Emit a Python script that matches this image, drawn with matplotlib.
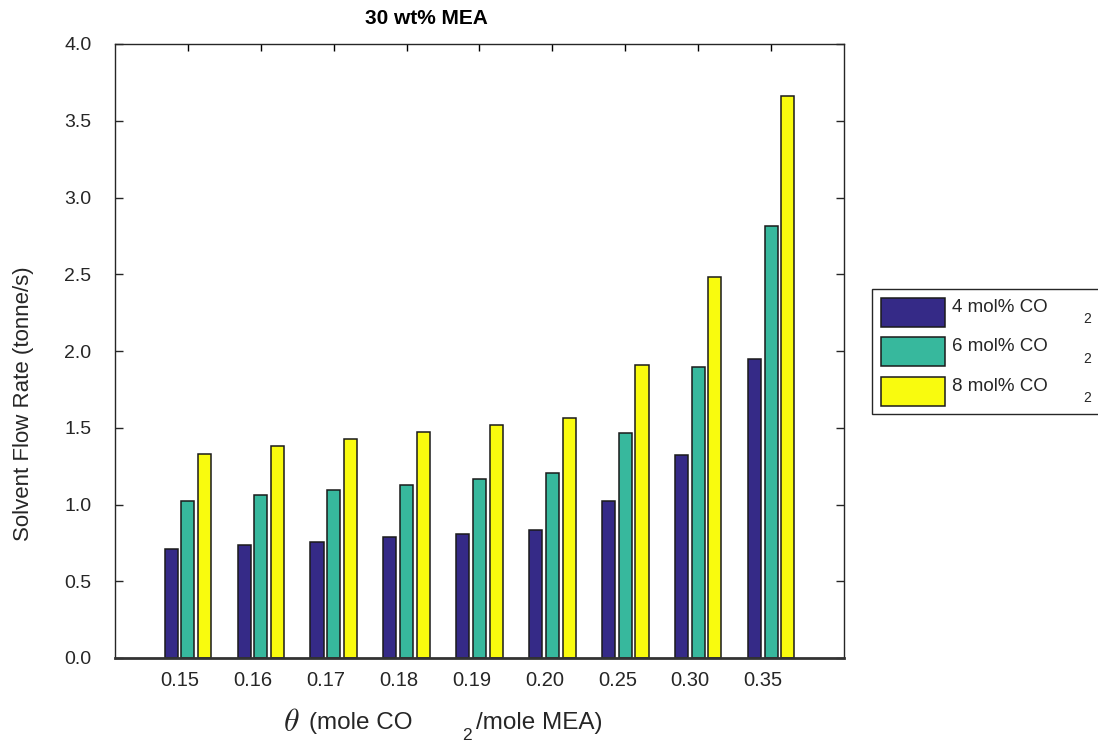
import matplotlib
matplotlib.use("Agg")
import matplotlib.pyplot as plt
import numpy as np
from matplotlib.patches import Rectangle
from matplotlib.transforms import ScaledTranslation

plt.rcParams['font.family'] = ['Liberation Sans', 'DejaVu Sans']

categories = ["0.15", "0.16", "0.17", "0.18", "0.19", "0.20", "0.25", "0.30", "0.35"]
co2_4 = [0.71, 0.736, 0.756, 0.79, 0.81, 0.834, 1.021, 1.32, 1.946]
co2_6 = [1.023, 1.06, 1.094, 1.129, 1.168, 1.203, 1.468, 1.896, 2.816]
co2_8 = [1.331, 1.379, 1.425, 1.47, 1.52, 1.566, 1.909, 2.484, 3.659]
series_labels = ["4 mol% CO", "6 mol% CO", "8 mol% CO"]
yticks = [0.0, 0.5, 1.0, 1.5, 2.0, 2.5, 3.0, 3.5, 4.0]

colors = ["#352a87", "#37b89d", "#f9fb0e"]

W, H = 1098, 743
fig = plt.figure(figsize=(W / 100, H / 100), dpi=100)
ax = fig.add_axes([115 / W, 1 - 658 / H, (844 - 115) / W, (658 - 44) / H])

x = np.arange(1, len(categories) + 1)
pitch = 0.229
bw = 0.18
for i, (vals, c) in enumerate(zip([co2_4, co2_6, co2_8], colors)):
    ax.bar(x + (i - 1) * pitch, vals, width=bw, color=c, edgecolor="#1a1a1a",
           linewidth=1.1, zorder=2)

ax.set_xlim(0, 10)
ax.set_ylim(0, 4.0)
ax.set_xticks(x)
ax.set_xticklabels(categories, fontsize=14.5, color="#262626")
ax.set_yticks(yticks)
ax.set_yticklabels([f"{v:.1f}" for v in yticks], fontsize=14, color="#262626")

ax.tick_params(axis="x", direction="in", length=0, pad=9)
ax.tick_params(axis="y", direction="in", length=6, width=1, pad=17,
               right=True, color="#262626")
ax.xaxis.set_tick_params(which="major", top=True, bottom=False)
for t in ax.xaxis.get_major_ticks():
    t.tick2line.set_markersize(5)
    t.tick2line.set_markeredgewidth(1)
    t.tick2line.set_color("#262626")
    t.label1.set_visible(True)

for s in ["left", "right", "top"]:
    ax.spines[s].set_linewidth(1.0)
    ax.spines[s].set_color("#262626")
ax.spines["bottom"].set_linewidth(2.0)
ax.spines["bottom"].set_color("#333333")

for lab in ax.get_xticklabels():
    lab.set_transform(lab.get_transform() + ScaledTranslation(-8 / 100, 0, fig.dpi_scale_trans))
    lab.set_visible(True)

# Title
fig.text(426 / W, 1 - 24 / H, "30 wt% MEA", ha="center", va="baseline",
         fontsize=15, fontweight="bold", color="black")

# Y label
fig.text(24 / W, 1 - 404 / H, "Solvent Flow Rate (tonne/s)", rotation=90,
         ha="center", va="center", fontsize=16, color="#262626")

# X label pieces
fig.text(283 / W, 1 - 731 / H, r"$\theta$", ha="left", va="baseline",
         fontsize=23, math_fontfamily="cm", color="#262626")
fig.text(309 / W, 1 - 729 / H, "(mole CO", ha="left", va="baseline",
         fontsize=17.5, color="#262626")
fig.text(462 / W, 1 - 740 / H, "2", ha="left", va="baseline",
         fontsize=12.5, color="#262626")
fig.text(476 / W, 1 - 729 / H, "/mole MEA)", ha="left", va="baseline",
         fontsize=17.5, color="#262626")

# Legend (manual)
fig.patches.append(Rectangle((872 / W, 1 - 414 / H), (1110 - 872) / W, (414 - 289) / H,
                             transform=fig.transFigure, facecolor="white",
                             edgecolor="#262626", linewidth=1.0, clip_on=False))
row_tops = [297.7, 337.3, 376.7]
for top, c, lab in zip(row_tops, colors, series_labels):
    fig.patches.append(Rectangle((881 / W, 1 - (top + 29) / H), 64 / W, 29 / H,
                                 transform=fig.transFigure, facecolor=c,
                                 edgecolor="#1a1a1a", linewidth=1.1))
    fig.text(952 / W, 1 - (top + 14) / H, lab, ha="left", va="baseline",
             fontsize=13.5, color="#262626")
    fig.text(1083 / W, 1 - (top + 25.5) / H, "2", ha="left", va="baseline",
             fontsize=10, color="#262626")

fig.savefig("out.png", dpi=100, facecolor="white")
